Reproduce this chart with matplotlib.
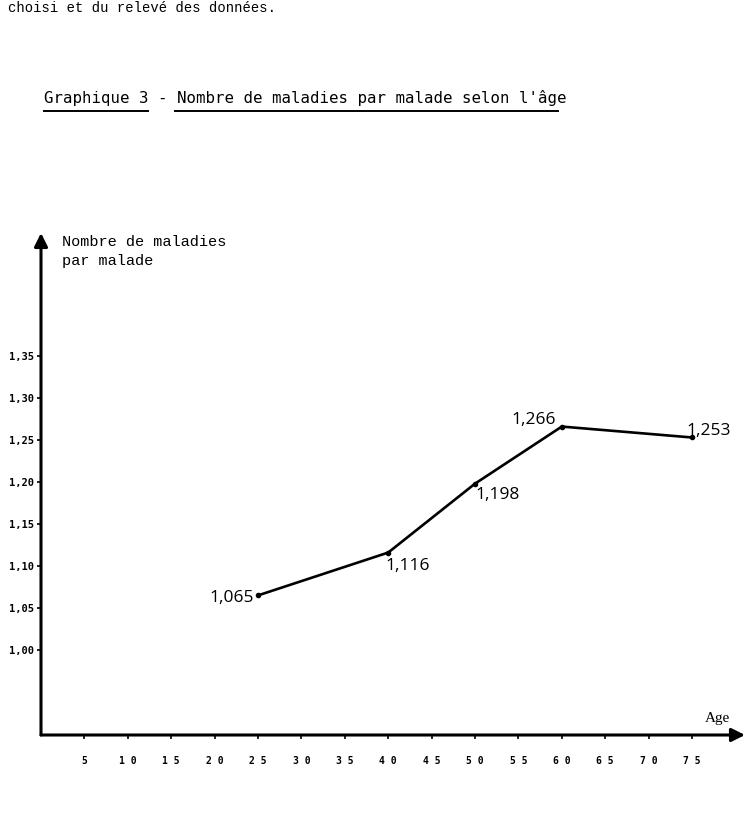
import matplotlib.pyplot as plt

# Données
ages = [25, 40, 50, 60, 75]
maladies = [1.065, 1.116, 1.198, 1.266, 1.253]
etiquettes = ["1,065", "1,116", "1,198", "1,266", "1,253"]

x_ticks = [5, 10, 15, 20, 25, 30, 35, 40, 45, 50, 55, 60, 65, 70, 75]
y_ticks = [1.00, 1.05, 1.10, 1.15, 1.20, 1.25, 1.30, 1.35]
y_labels = ["1,00", "1,05", "1,10", "1,15", "1,20", "1,25", "1,30", "1,35"]

W, H = 747, 830
fig = plt.figure(figsize=(W / 100, H / 100), dpi=100)
fig.patch.set_facecolor('white')

# axes placées en pixels: origine (41, 735), haut 233, droite 745
left, right, bottom, top = 41, 745, 735, 233
ax = fig.add_axes([left / W, (H - bottom) / H, (right - left) / W, (bottom - top) / H])
ax.set_xlim(0, (right - left) / 8.68)
ax.set_ylim(1.0 - (bottom - 650) / 840, 1.0 + (650 - top) / 840)

for s in ax.spines.values():
    s.set_visible(False)

# axes avec flèches
ax.annotate('', xy=(1, 0), xytext=(0, 0), xycoords='axes fraction',
            arrowprops=dict(arrowstyle='-|>', lw=2.2, color='black', mutation_scale=20, shrinkA=0, shrinkB=0))
ax.annotate('', xy=(0, 1), xytext=(0, 0), xycoords='axes fraction',
            arrowprops=dict(arrowstyle='-|>', lw=2.2, color='black', mutation_scale=20, shrinkA=0, shrinkB=0))

ax.set_xticks(x_ticks)
ax.set_xticklabels([" ".join(str(v)) for v in x_ticks], family='DejaVu Sans Mono',
                   fontweight='bold', fontsize=7)
ax.tick_params(axis='x', direction='out', length=3, width=1.2, pad=12)
ax.set_yticks(y_ticks)
ax.set_yticklabels(y_labels, family='DejaVu Sans Mono', fontweight='bold', fontsize=7.5)
ax.tick_params(axis='y', direction='out', length=3, width=1.2, pad=2)

# courbe
ax.plot(ages, maladies, color='black', lw=1.9, marker='o', markersize=3)

# décalages des étiquettes (points typographiques)
decalages = [(-3, -2, 'right'), (-2, -10, 'left'), (0, -8, 'left'), (-4, 5, 'right'), (-4, 5, 'left')]
for a, v, t, (dx, dy, ha) in zip(ages, maladies, etiquettes, decalages):
    ax.annotate(t, (a, v), xytext=(dx, dy), textcoords='offset points',
                ha=ha, va='center', fontsize=12.5, family='Open Sans')

# libellés des axes
fig.text(62 / W, 1 - 235 / H, "Nombre de maladies\npar malade",
         family='Liberation Mono', fontsize=11, va='top', ha='left', linespacing=1.45)
fig.text(705 / W, 1 - 718 / H, "Age", family='Liberation Serif', fontsize=11, va='center', ha='left')

# titre et texte du haut (document numérisé)
fig.text(8 / W, 1 - 1 / H, "choisi et du relevé des données.", family='Liberation Mono',
         fontsize=10, va='top', ha='left')
fig.text(44 / W, 1 - 98 / H, "Graphique 3 - Nombre de maladies par malade selon l'âge",
         family='DejaVu Sans Mono', fontsize=11.3, va='center', ha='left')
fig.add_artist(plt.Line2D([44 / W, 148 / W], [1 - 111 / H] * 2, color='black', lw=1.4))
fig.add_artist(plt.Line2D([175 / W, 558 / W], [1 - 111 / H] * 2, color='black', lw=1.4))

fig.savefig('out.png', dpi=100, facecolor='white')
